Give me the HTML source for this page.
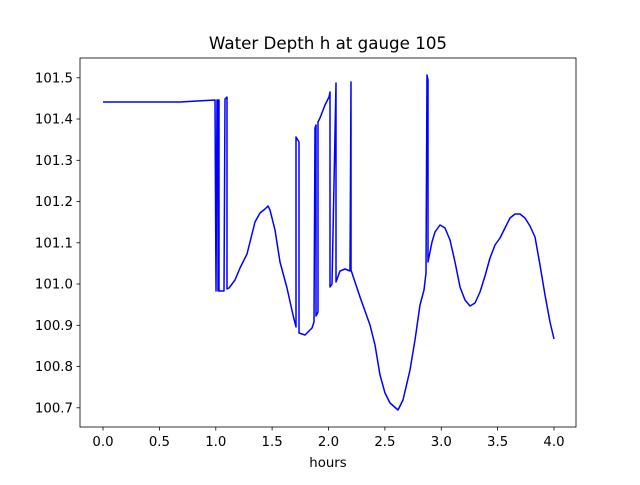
<!DOCTYPE html>
<html><head><style>body{margin:0;background:#fff}</style></head><body>
<svg width="640" height="480" xmlns="http://www.w3.org/2000/svg" font-family="DejaVu Sans, Liberation Sans, sans-serif">
<rect width="640" height="480" fill="#fff"/>
<text x="328" y="49" font-size="16.7" text-anchor="middle">Water Depth h at gauge 105</text>
<polyline fill="none" stroke="#0000ff" stroke-width="1.5" stroke-linejoin="round" points="103,102 180,102 215,100 216,291 217,100 218,100 218,291 219,100 219,291 224,291 225,99 226,98 227,97 227,289 229,288 235,280 240,268 247,254 250,242 255,222 260,213 265,209 268,206 270,210 275,230 280,262 287,288 293,315 296,327 296,137 299,142 299,333 305,335 312,328 314,322 315,128 316,125 316,316 318,312 318,122 320,118 325,105 329,97 330,92 330,287 332,284 336,83 336,282 340,271 345,269 350,271 351,82 351,270 355,282 360,297 365,311 370,325 375,345 380,375 385,393 390,403 398,410 403,400 410,370 415,340 420,305 424,290 426,273 427,75 428,80 428,262 432,242 435,232 440,225 445,228 450,240 455,262 460,287 465,300 470,306 475,303 480,292 485,276 490,258 495,245 500,238 505,228 510,218 515,214 520,214 525,218 530,226 535,237 540,265 545,295 550,322 554,339"/>
<rect x="80" y="58" width="496" height="369" fill="none" stroke="#000" stroke-width="0.8"/>
<g stroke="#000" stroke-width="0.8">
<line x1="103" y1="427" x2="103" y2="430.5"/><line x1="159.4" y1="427" x2="159.4" y2="430.5"/><line x1="215.8" y1="427" x2="215.8" y2="430.5"/><line x1="272.1" y1="427" x2="272.1" y2="430.5"/><line x1="328.5" y1="427" x2="328.5" y2="430.5"/><line x1="384.9" y1="427" x2="384.9" y2="430.5"/><line x1="441.3" y1="427" x2="441.3" y2="430.5"/><line x1="497.6" y1="427" x2="497.6" y2="430.5"/><line x1="554" y1="427" x2="554" y2="430.5"/>
<line x1="76.5" y1="77.8" x2="80" y2="77.8"/><line x1="76.5" y1="119" x2="80" y2="119"/><line x1="76.5" y1="160.3" x2="80" y2="160.3"/><line x1="76.5" y1="201.5" x2="80" y2="201.5"/><line x1="76.5" y1="242.8" x2="80" y2="242.8"/><line x1="76.5" y1="284" x2="80" y2="284"/><line x1="76.5" y1="325.3" x2="80" y2="325.3"/><line x1="76.5" y1="366.5" x2="80" y2="366.5"/><line x1="76.5" y1="407.8" x2="80" y2="407.8"/>
</g>
<g font-size="13.3" text-anchor="middle">
<text x="103" y="446">0.0</text><text x="159.4" y="446">0.5</text><text x="215.8" y="446">1.0</text><text x="272.1" y="446">1.5</text><text x="328.5" y="446">2.0</text><text x="384.9" y="446">2.5</text><text x="441.3" y="446">3.0</text><text x="497.6" y="446">3.5</text><text x="554" y="446">4.0</text>
<text x="328" y="467">hours</text>
</g>
<g font-size="13.3" text-anchor="end">
<text x="73" y="82.5">101.5</text><text x="73" y="123.5">101.4</text><text x="73" y="165">101.3</text><text x="73" y="206">101.2</text><text x="73" y="247.5">101.1</text><text x="73" y="288.5">101.0</text><text x="73" y="330">100.9</text><text x="73" y="371">100.8</text><text x="73" y="412.5">100.7</text>
</g>
</svg>
</body></html>
